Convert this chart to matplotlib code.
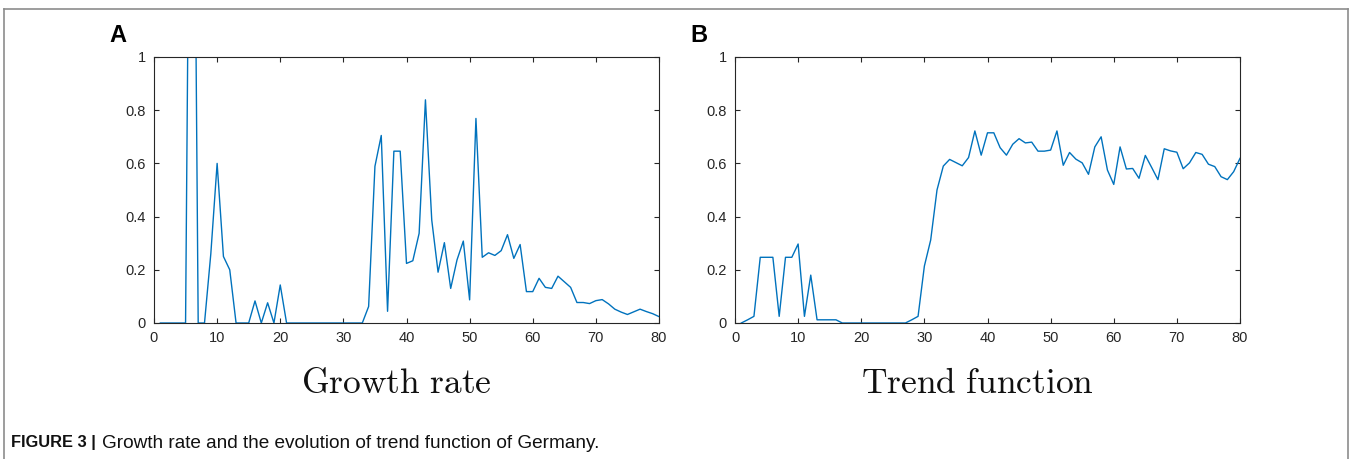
import numpy as np
import matplotlib
matplotlib.use('Agg')
import matplotlib.pyplot as plt
from matplotlib.lines import Line2D

plt.rcParams['mathtext.fontset'] = 'cm'

# x positions (periods) shared by both panels
periods = list(range(1, 81))

growth_rate = [
    0, 0, 0, 0, 0, 3.0, 0, 0, 0.26, 0.6,
    0.25, 0.2, 0, 0, 0, 0.083, 0, 0.076, 0, 0.143,
    0, 0, 0, 0, 0, 0, 0, 0, 0, 0,
    0, 0, 0, 0.062, 0.589, 0.705, 0.044, 0.646, 0.646, 0.224,
    0.234, 0.337, 0.839, 0.387, 0.191, 0.302, 0.13, 0.237, 0.308, 0.087,
    0.769, 0.247, 0.264, 0.254, 0.272, 0.332, 0.243, 0.295, 0.118, 0.118,
    0.168, 0.134, 0.13, 0.176, 0.155, 0.134, 0.077, 0.077, 0.073, 0.084,
    0.088, 0.072, 0.052, 0.041, 0.032, 0.042, 0.052, 0.043, 0.035, 0.024,
]

trend_function = [
    0, 0.012, 0.025, 0.247, 0.247, 0.247, 0.025, 0.247, 0.247, 0.297,
    0.025, 0.18, 0.012, 0.012, 0.012, 0.012, 0, 0, 0, 0,
    0, 0, 0, 0, 0, 0, 0, 0.012, 0.025, 0.214,
    0.312, 0.5, 0.59, 0.615, 0.603, 0.591, 0.622, 0.722, 0.631, 0.715,
    0.715, 0.659, 0.631, 0.672, 0.693, 0.677, 0.68, 0.646, 0.646, 0.65,
    0.722, 0.593, 0.641, 0.616, 0.602, 0.559, 0.662, 0.7, 0.575, 0.521,
    0.662, 0.579, 0.581, 0.544, 0.63, 0.585, 0.539, 0.655, 0.647, 0.642,
    0.58, 0.602, 0.641, 0.634, 0.597, 0.588, 0.55, 0.539, 0.569, 0.619,
]

panel_letters = ['A', 'B']
panel_titles = ['Growth rate', 'Trend function']
x_ticks = [0, 10, 20, 30, 40, 50, 60, 70, 80]
y_ticks = [0, 0.2, 0.4, 0.6, 0.8, 1]
y_tick_labels = ['0', '0.2', '0.4', '0.6', '0.8', '1']

W, H = 1352, 459
fig = plt.figure(figsize=(W / 100, H / 100), dpi=100)

sans = ['Liberation Sans', 'DejaVu Sans']
axis_color = '#262626'
line_color = '#0072BD'

lefts = [154, 735]
series = [growth_rate, trend_function]
for i in range(2):
    ax = fig.add_axes([lefts[i] / W, (H - 323) / H, 505 / W, 266 / H])
    ax.plot(periods, series[i], color=line_color, lw=1.0)
    ax.set_xlim(0, 80)
    ax.set_ylim(0, 1)
    ax.set_xticks(x_ticks)
    ax.set_yticks(y_ticks)
    ax.set_yticklabels(y_tick_labels)
    ax.tick_params(direction='in', length=3.5, width=0.8, color=axis_color,
                   top=True, right=True, labelsize=10.5, labelcolor='#262626', pad=6)
    for lab in ax.get_xticklabels() + ax.get_yticklabels():
        lab.set_family(sans)
    for sp in ax.spines.values():
        sp.set_color(axis_color)
        sp.set_linewidth(0.8)
    # big serif panel title under the axis, a bit left of centre as in the original
    title = r'$\mathrm{' + panel_titles[i].replace(' ', r'\ ') + '}$'
    ax.text(0.48, -0.16, title, transform=ax.transAxes, ha='center', va='top',
            fontsize=25.5, color='#111111')
    fig.text((lefts[i] - 36) / W, 1 - 35 / H, panel_letters[i], ha='center', va='center',
             fontsize=17, fontweight='bold', family=sans)

# outer frame like the journal figure box
frame_color = '#8c8c8c'
fig.add_artist(Line2D([4 / W, 4 / W], [0, 1 - 9 / H], transform=fig.transFigure, color=frame_color, lw=1.2))
fig.add_artist(Line2D([4 / W, 1348 / W], [1 - 9 / H, 1 - 9 / H], transform=fig.transFigure, color=frame_color, lw=1.2))
fig.add_artist(Line2D([1348 / W, 1348 / W], [0, 1 - 9 / H], transform=fig.transFigure, color=frame_color, lw=1.2))

fig.text(11 / W, 1 - 443 / H, 'FIGURE 3 |', ha='left', va='center', fontsize=11.8,
         fontweight='bold', family=sans, color='#111111')
fig.text(102 / W, 1 - 443 / H, 'Growth rate and the evolution of trend function of Germany.',
         ha='left', va='center', fontsize=13.7, family=sans, color='#111111')

fig.savefig('out.png', dpi=100)
